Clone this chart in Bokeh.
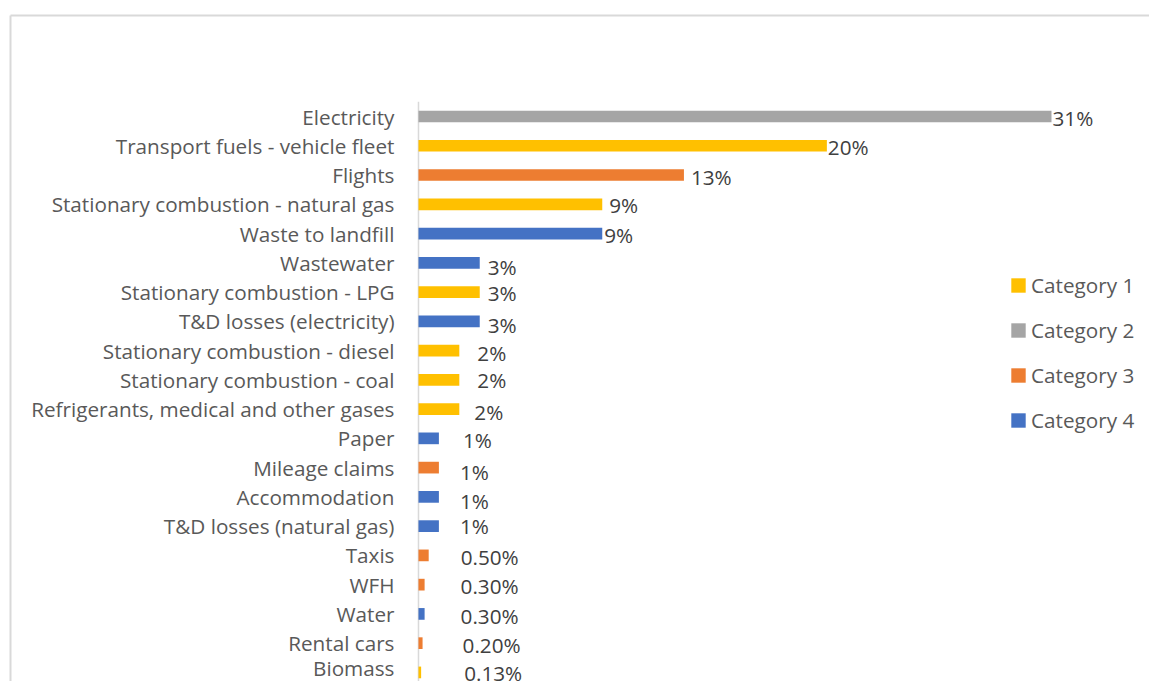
from bokeh.plotting import figure
from bokeh.models import ColumnDataSource, Range1d, LinearAxis, FixedTicker, Legend, LegendItem
from bokeh.core.properties import value
from bokeh.embed import file_html
from bokeh.resources import INLINE

# ---- data (top to bottom) ----
categories = [
    "Electricity", "Transport fuels - vehicle fleet", "Flights",
    "Stationary combustion - natural gas", "Waste to landfill", "Wastewater",
    "Stationary combustion - LPG", "T&D losses (electricity)",
    "Stationary combustion - diesel", "Stationary combustion - coal",
    "Refrigerants, medical and other gases", "Paper", "Mileage claims",
    "Accommodation", "T&D losses (natural gas)", "Taxis", "WFH", "Water",
    "Rental cars", "Biomass",
]
values = [31, 20, 13, 9, 9, 3, 3, 3, 2, 2, 2, 1, 1, 1, 1, 0.5, 0.3, 0.3, 0.2, 0.13]
value_labels = ["31%", "20%", "13%", "9%", "9%", "3%", "3%", "3%", "2%", "2%", "2%",
                "1%", "1%", "1%", "1%", "0.50%", "0.30%", "0.30%", "0.20%", "0.13%"]
groups = ["Category 2", "Category 1", "Category 3", "Category 1", "Category 4",
          "Category 4", "Category 1", "Category 4", "Category 1", "Category 1",
          "Category 1", "Category 4", "Category 3", "Category 4", "Category 4",
          "Category 3", "Category 3", "Category 4", "Category 3", "Category 1"]
group_names = ["Category 1", "Category 2", "Category 3", "Category 4"]

# ---- styles ----
group_colors = ["#FFC000", "#A5A5A5", "#ED7D31", "#4472C4"]
# manual data-label placement (screen px) as in the source chart
label_dx = [1, 1, 7, 7, 2, 8, 8, 8, 18, 18, 15, 24, 21, 21, 21, 32, 36, 36, 40, 43]
label_dy = [1, 1, 1.5, 1, 1.5, 4, 1, 4, 2, 0, 2.5, 2, 4.5, 4, 0, 2, 1.5, 2.5, 2, 1]
FONT = "Open Sans"
FS = "20.7px"

n = len(categories)
rows = list(range(n))

p = figure(width=1149, height=681, output_backend="svg", toolbar_location=None,
           x_range=Range1d(-19.98, 35.80), y_range=Range1d(19.31, -3.452),
           x_axis_location=None, y_axis_location=None,
           min_border_left=10, min_border_top=15, min_border_right=0, min_border_bottom=0,
           background_fill_color="white", border_fill_color="white",
           outline_line_color=None)

# chart-area border (top and left edges)
for side in ("left", "above"):
    ax = LinearAxis(ticker=FixedTicker(ticks=[], minor_ticks=[]),
                    major_tick_in=0, major_tick_out=0, minor_tick_in=0, minor_tick_out=0,
                    major_label_text_font_size="0px", major_label_standoff=0,
                    axis_line_color="#d9d9d9", axis_line_width=2)
    p.add_layout(ax, side)

# category axis placed at x = 0
yax = LinearAxis(fixed_location=0, ticker=FixedTicker(ticks=rows, minor_ticks=[]),
                 major_label_overrides={i: c for i, c in enumerate(categories)},
                 major_tick_in=0, major_tick_out=0, minor_tick_in=0, minor_tick_out=0,
                 axis_line_color=None, major_label_standoff=24,
                 major_label_text_font=FONT, major_label_text_font_size=FS,
                 major_label_text_color="#595959")
p.add_layout(yax, "left")

# axis line
p.segment(x0=0, y0=-0.5, x1=0, y1=n - 0.5, line_color="#d9d9d9", line_width=1.5)

# bars by group
legend_items = []
for g, col in zip(group_names, group_colors):
    idx = [i for i in rows if groups[i] == g]
    src = ColumnDataSource(dict(row=[rows[i] for i in idx], val=[values[i] for i in idx]))
    r = p.hbar(y="row", left=0, right="val", height=0.4, source=src,
               fill_color=col, line_color=None)
    legend_items.append(LegendItem(label=g, renderers=[r]))

# data labels
lab_src = ColumnDataSource(dict(row=rows, val=values, txt=value_labels,
                                dx=label_dx, dy=label_dy))
p.text(x="val", y="row", text="txt", x_offset="dx", y_offset="dy", source=lab_src,
       text_align="left", text_baseline="middle", text_font=value(FONT),
       text_font_size=value(FS), text_color="#404040")

legend = Legend(items=legend_items, location=(999, 247),
                label_text_font=FONT, label_text_font_size=FS, label_text_color="#595959",
                glyph_width=18, glyph_height=18, label_standoff=4, spacing=17,
                padding=0, margin=0, border_line_color=None, background_fill_alpha=0)
p.add_layout(legend)

p.grid.visible = False

open("out.html", "w").write(file_html(p, INLINE))
